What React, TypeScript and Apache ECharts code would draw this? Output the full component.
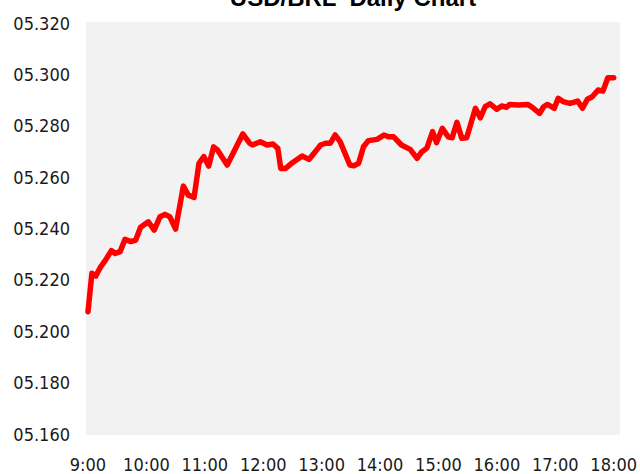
import React, { useEffect, useRef } from "react";
import * as echarts from "echarts";

const titleText = "USD/BRL  Daily Chart";

// minutes after 9:00
const minutes = [
  0, 4, 8, 13, 18, 24, 28, 33, 38, 44, 49, 54, 62, 68, 74, 79, 84, 90, 98, 103,
  109, 114, 119, 124, 129, 133, 143, 159, 166, 169, 177, 184, 190, 195, 198, 203,
  210, 220, 227, 239, 244, 249, 254, 259, 269, 273, 278, 283, 288, 297, 304, 309,
  314, 322, 331, 338, 343, 348, 354, 358, 364, 370, 374, 379, 384, 389, 398, 403,
  408, 413, 420, 425, 430, 433, 442, 452, 457, 464, 468, 472, 479, 483, 488, 495,
  503, 508, 513, 518, 524, 529, 534, 540,
];

const rates = [
  5.2076, 5.2226, 5.2215, 5.2251, 5.2277, 5.2314, 5.2303, 5.231, 5.2358, 5.2349,
  5.2355, 5.2405, 5.2426, 5.2394, 5.2446, 5.2455, 5.2446, 5.2398, 5.2565, 5.253,
  5.2521, 5.2654, 5.268, 5.2643, 5.2718, 5.2706, 5.2647, 5.2768, 5.2732, 5.2725,
  5.2738, 5.2725, 5.2729, 5.2712, 5.2634, 5.2634, 5.2656, 5.2682, 5.2669, 5.2725,
  5.2732, 5.2732, 5.2764, 5.2738, 5.2647, 5.2644, 5.2654, 5.2718, 5.2742, 5.2747,
  5.2764, 5.2757, 5.2757, 5.2725, 5.2708, 5.2673, 5.2699, 5.2712, 5.2777, 5.2734,
  5.279, 5.2757, 5.2753, 5.2813, 5.2751, 5.2753, 5.2868, 5.2831, 5.2874, 5.2885,
  5.2864, 5.2877, 5.2872, 5.2883, 5.2881, 5.2883, 5.287, 5.2848, 5.2874, 5.2883,
  5.2868, 5.2907, 5.2894, 5.2887, 5.2896, 5.2868, 5.2903, 5.2913, 5.2939, 5.2935,
  5.2987, 5.2987,
];

const yMin = 5.16;
const yMax = 5.32;
const yStep = 0.02;
const xMin = 0;
const xMax = 540;
const xStep = 60;
const startHour = 9;

const labelFont = "'DejaVu Sans Condensed', 'Liberation Sans', sans-serif";

export default function App() {
  const ref = useRef<HTMLDivElement>(null);
  useEffect(() => {
    if (!ref.current) return;
    const chart = echarts.init(ref.current, undefined, { renderer: "svg" });
    const data = minutes.map((m, i) => [m, rates[i]]);
    chart.setOption({
      animation: false,
      backgroundColor: "#ffffff",
      grid: { left: 88, right: 24, top: 23, bottom: 40, containLabel: false },
      graphic: [
        {
          type: "rect",
          z: -10,
          silent: true,
          shape: { x: 86, y: 22, width: 534, height: 413 },
          style: { fill: "#f2f2f2" },
        },
        {
          type: "text",
          x: 353,
          y: -3,
          style: {
            text: titleText,
            fill: "#000",
            font: "bold 24px 'Liberation Sans', Arial, sans-serif",
            textAlign: "center",
            textVerticalAlign: "middle",
          },
        },
      ],
      xAxis: {
        type: "value",
        min: xMin,
        max: xMax,
        interval: xStep,
        axisLine: { show: false },
        axisTick: { show: false },
        splitLine: { show: false },
        axisLabel: {
          margin: 21,
          color: "#1a1a1a",
          fontSize: 18,
          fontFamily: labelFont,
          formatter: (v: number) => `${startHour + Math.round(v / 60)}:00`,
        },
      },
      yAxis: {
        type: "value",
        min: yMin,
        max: yMax,
        interval: yStep,
        axisLine: { show: false },
        axisTick: { show: false },
        splitLine: { show: false },
        axisLabel: {
          margin: 18,
          color: "#1a1a1a",
          fontSize: 18,
          fontFamily: labelFont,
          formatter: (v: number) => "0" + v.toFixed(3),
        },
      },
      series: [
        {
          type: "line",
          data,
          showSymbol: false,
          symbol: "none",
          lineStyle: { color: "#ff0000", width: 5.5, join: "round", cap: "round" },
        },
      ],
    });
    return () => chart.dispose();
  }, []);
  return (
    <div
      ref={ref}
      style={{ position: "fixed", left: 0, top: 0, width: 640, height: 474 }}
    />
  );
}
